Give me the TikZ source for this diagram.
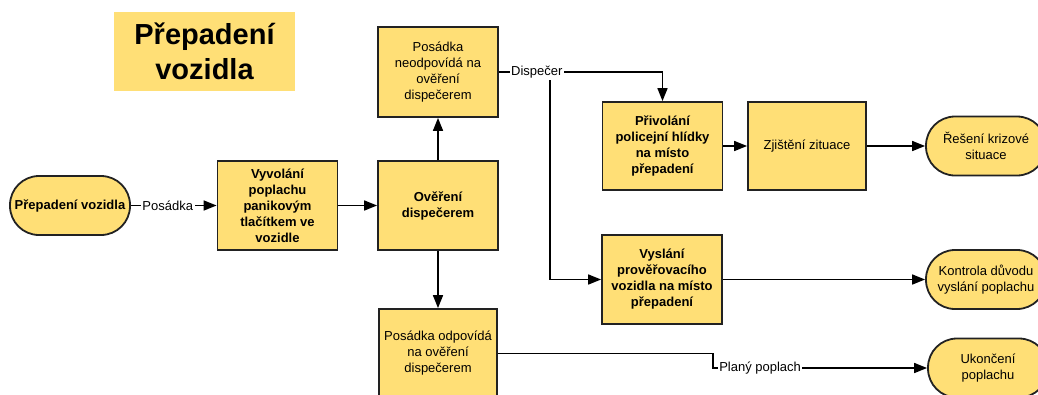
\documentclass[tikz,border=0pt]{standalone}
\usepackage{fontspec}
\setmainfont{Liberation Sans}
\usetikzlibrary{arrows.meta}
\definecolor{alarm}{RGB}{255,223,118}
\definecolor{boxline}{RGB}{34,34,34}
\newcommand{\boxfont}{\fontsize{13}{16}\selectfont}
\tikzstyle{process}=[rectangle, draw=boxline, fill=alarm, line width=1.8pt, minimum width=120pt, minimum height=89pt, inner sep=0pt, align=center, font=\boxfont]
\tikzstyle{terminal}=[process, minimum height=59pt, rounded corners=29pt]
\tikzstyle{titlebox}=[rectangle, fill=alarm, minimum width=181pt, minimum height=79pt, align=center, font=\fontsize{29}{35}\selectfont\bfseries]
\tikzstyle{flow}=[-{Triangle[length=13pt,width=10pt]}, line width=1.6pt, color=black]
\tikzstyle{edgetext}=[fill=white, inner sep=1.5pt, font=\boxfont]
\tikzset{y=-1pt}
\tikzset{x=1pt}

\begin{document}
\begin{tikzpicture}
  \path[use as bounding box, clip] (0,0) rectangle (1038,394);

  \draw (204.5,51.5) node[titlebox] (title) {Přepadení\\vozidla};

  \draw (70,205.5) node[terminal,font=\boxfont\bfseries] (start) {Přepadení vozidla};
  \draw (277.5,205.5) node[process,font=\boxfont\bfseries] (vyvolani) {Vyvolání\\poplachu\\panikovým\\tlačítkem ve\\vozidle};
  \draw (438,205.5) node[process,font=\boxfont\bfseries] (overeni) {Ověření\\dispečerem};
  \draw (438,72) node[process,minimum height=90pt] (neodp) {Posádka\\neodpovídá na\\ověření\\dispečerem};
  \draw (438,353.5) node[process,minimum width=118pt] (odp) {Posádka odpovídá\\na ověření\\dispečerem};

  \draw (662.5,146) node[process,minimum height=88pt,font=\boxfont\bfseries] (privolani) {Přivolání\\policejní hlídky\\na místo\\přepadení};
  \draw (807,146) node[process,minimum width=118pt,minimum height=88pt] (zjisteni) {Zjištění zituace};
  \draw (662,279.5) node[process,font=\boxfont\bfseries] (vyslani) {Vyslání\\prověřovacího\\vozidla na místo\\přepadení};

  \draw (986,146) node[terminal] (reseni) {Řešení krizové\\situace};
  \draw (986,279.5) node[terminal] (kontrola) {Kontrola důvodu\\vyslání poplachu};
  \draw (988,368) node[terminal] (ukonceni) {Ukončení\\poplachu};

  %% Connectors
  \draw[flow] (start) -- node[edgetext,pos=.43] {Posádka} (vyvolani);
  \draw[flow] (vyvolani) -- (overeni);
  \draw[flow] (overeni) -- (neodp);
  \draw[flow] (overeni) -- (odp);

  \coordinate (split) at (550,72);
  \draw[flow] (split) |- (vyslani);
  \draw[flow] (neodp) -| node[edgetext,pos=.116] {Dispečer} (privolani);

  \draw[flow] (privolani) -- (zjisteni);
  \draw[flow] (zjisteni) -- (reseni);
  \draw[flow] (vyslani) -- (kontrola);

  \coordinate (plany) at (713,368);
  \draw[flow] (odp) -| (plany) -- node[edgetext,pos=.22] {Planý poplach} (ukonceni);
\end{tikzpicture}
\end{document}
